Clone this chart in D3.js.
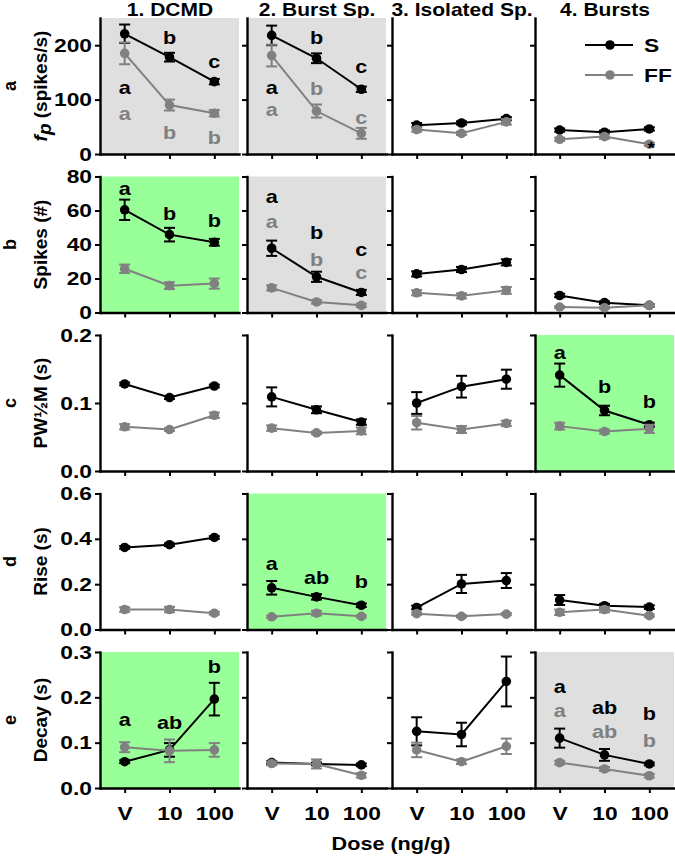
<!DOCTYPE html>
<html><head><meta charset="utf-8">
<script src="https://cdn.jsdelivr.net/npm/d3@7"></script>
<style>
body{margin:0;background:#fff}
text{font-family:"Liberation Sans",Arial,sans-serif;font-weight:bold}
</style>
</head><body>
<svg id="chart" width="675" height="858"></svg>
<script>
// ---------------- DATA ----------------
const doses = ["V", "10", "100"];
const columnTitles = ["1. DCMD", "2. Burst Sp.", "3. Isolated Sp.", "4. Bursts"];
const rowLetters = ["a", "b", "c", "d", "e"];
const rowLabels = ["fp (spikes/s)", "Spikes (#)", "PW½M (s)", "Rise (s)", "Decay (s)"];
const xAxisTitle = "Dose (ng/g)";
const seriesNames = ["S", "FF"];

const yMax = [250, 80, 0.2, 0.6, 0.3];
const yTickValues = [[0, 100, 200], [0, 20, 40, 60, 80], [0, 0.1, 0.2], [0, 0.2, 0.4, 0.6], [0, 0.1, 0.2, 0.3]];
const yTickFormats = ["d", "d", ".1f", ".1f", ".1f"];

// background category per row, per column
const panelShade = [
  ["gray", "gray", "none", "none"],
  ["green", "gray", "none", "none"],
  ["none", "none", "none", "green"],
  ["none", "green", "none", "none"],
  ["green", "none", "none", "gray"]
];

// means and errors: [column][dose]
const fpS      = [[221, 178, 133], [218, 176, 119], [53, 57, 65], [44, 40, 46]];
const fpSErr   = [[17, 8, 5], [18, 9, 5], [4, 3, 3], [3, 3, 3]];
const fpFF     = [[185, 90, 75], [181, 79, 38], [45, 38, 59], [27, 32, 18]];
const fpFFErr  = [[20, 10, 6], [20, 12, 10], [4, 3, 5], [3, 4, 3]];

const spkS     = [[60.4, 45.8, 41.3], [37.8, 21, 11.8], [22.7, 25.3, 29.5], [10, 5.8, 4.2]];
const spkSErr  = [[6, 4, 2], [4.5, 3, 1.5], [1.5, 1.5, 1.8], [1, 0.8, 0.8]];
const spkFF    = [[25.7, 15.8, 17], [14.5, 6.2, 4.2], [11.6, 9.8, 13], [3.2, 2.8, 4.2]];
const spkFFErr = [[2.5, 2, 3], [1.5, 1, 1], [1.5, 1.5, 2], [0.5, 0.5, 0.8]];

const pwS      = [[0.128, 0.108, 0.125], [0.109, 0.090, 0.072], [0.100, 0.124, 0.135], [0.141, 0.089, 0.068]];
const pwSErr   = [[0.002, 0.002, 0.002], [0.014, 0.005, 0.004], [0.016, 0.016, 0.014], [0.017, 0.007, 0.003]];
const pwFF     = [[0.065, 0.061, 0.082], [0.063, 0.056, 0.059], [0.071, 0.061, 0.070], [0.066, 0.058, 0.062]];
const pwFFErr  = [[0.004, 0.002, 0.004], [0.004, 0.002, 0.005], [0.010, 0.005, 0.004], [0.005, 0.003, 0.006]];

const riseS    = [[0.362, 0.374, 0.406], [0.184, 0.144, 0.107], [0.097, 0.201, 0.216], [0.130, 0.105, 0.099]];
const riseSErr = [[0.006, 0.006, 0.006], [0.030, 0.012, 0.008], [0.008, 0.040, 0.033], [0.022, 0.008, 0.008]];
const riseFF   = [[0.088, 0.088, 0.072], [0.056, 0.072, 0.058], [0.070, 0.058, 0.068], [0.076, 0.088, 0.061]];
const riseFFErr= [[0.010, 0.012, 0.006], [0.005, 0.010, 0.005], [0.005, 0.005, 0.005], [0.012, 0.012, 0.005]];

const decS     = [[0.058, 0.084, 0.196], [0.056, 0.053, 0.051], [0.125, 0.118, 0.235], [0.110, 0.073, 0.053]];
const decSErr  = [[0.003, 0.015, 0.036], [0.003, 0.003, 0.003], [0.031, 0.026, 0.055], [0.021, 0.013, 0.003]];
const decFF    = [[0.090, 0.082, 0.084], [0.054, 0.053, 0.028], [0.084, 0.058, 0.092], [0.056, 0.042, 0.027]];
const decFFErr = [[0.011, 0.025, 0.015], [0.004, 0.010, 0.005], [0.016, 0.005, 0.017], [0.004, 0.004, 0.004]];

// significance letters: [column, series(0=S,1=FF), doseIndex, text, level in data units]
const fpLetters = [
  [0, 0, 0, "a", 111], [0, 0, 1, "b", 203], [0, 0, 2, "c", 159],
  [0, 1, 0, "a", 63], [0, 1, 1, "b", 27], [0, 1, 2, "b", 19],
  [1, 0, 0, "a", 111], [1, 0, 1, "b", 203], [1, 0, 2, "c", 148],
  [1, 1, 0, "a", 69], [1, 1, 1, "b", 109], [1, 1, 2, "c", 56]
];
const spkLetters = [
  [0, 0, 0, "a", 69], [0, 0, 1, "b", 54.4], [0, 0, 2, "b", 50.3],
  [1, 0, 0, "a", 64.4], [1, 1, 0, "a", 49.7], [1, 0, 1, "b", 43.2],
  [1, 1, 1, "b", 27.4], [1, 0, 2, "c", 33.2], [1, 1, 2, "c", 19.7]
];
const pwLetters = [[3, 0, 0, "a", 0.165], [3, 0, 1, "b", 0.114], [3, 0, 2, "b", 0.092]];
const riseLetters = [[1, 0, 0, "a", 0.262], [1, 0, 1, "ab", 0.200], [1, 0, 2, "b", 0.182]];
const decLetters = [
  [0, 0, 0, "a", 0.136], [0, 0, 1, "ab", 0.130], [0, 0, 2, "b", 0.253],
  [3, 0, 0, "a", 0.210], [3, 1, 0, "a", 0.156], [3, 0, 1, "ab", 0.164],
  [3, 1, 1, "ab", 0.110], [3, 0, 2, "b", 0.149], [3, 1, 2, "b", 0.090]
];
// asterisk: [row, column, doseIndex]
const starMarks = [[0, 3, 2]];

const rows = [
  {S: fpS, SE: fpSErr, F: fpFF, FE: fpFFErr, L: fpLetters},
  {S: spkS, SE: spkSErr, F: spkFF, FE: spkFFErr, L: spkLetters},
  {S: pwS, SE: pwSErr, F: pwFF, FE: pwFFErr, L: pwLetters},
  {S: riseS, SE: riseSErr, F: riseFF, FE: riseFFErr, L: riseLetters},
  {S: decS, SE: decSErr, F: decFF, FE: decFFErr, L: decLetters}
];

// ---------------- LAYOUT / STYLE ----------------
const colX = [100, 247, 392, 535];
const rowY = [18, 176.5, 335, 493.5, 652];
const PW = 139, PH = 136;
const SX = 1.2; // horizontal widening of the reference lettering
const colors = {S: "#000000", FF: "#808080"};
const shadeColors = {gray: "#dfdfdf", green: "#99ff99"};

const svg = d3.select("#chart");
const x = d3.scalePoint().domain(doses).range([0, PW]).padding(0.55);

function hText(g, px, py, str, size, fill, anchor) {
  return g.append("text")
    .attr("transform", `translate(${px},${py}) scale(${SX},1)`)
    .attr("text-anchor", anchor || "middle")
    .attr("font-size", size)
    .attr("fill", fill || "#000")
    .text(str);
}

// column titles
columnTitles.forEach((t, c) => hText(svg, colX[c] + 70, 16, t, 17.5));

rows.forEach((R, r) => {
  const y = d3.scaleLinear().domain([0, yMax[r]]).range([PH, 0]);

  // row letter + label
  const cy = rowY[r] + PH / 2;
  svg.append("text").attr("transform", `translate(16,${cy}) rotate(-90)`)
    .attr("text-anchor", "middle").attr("font-size", 18).text(rowLetters[r]);
  const lab = svg.append("text").attr("transform", `translate(47,${cy}) rotate(-90)`)
    .attr("text-anchor", "middle").attr("font-size", 19);
  if (r === 0) {
    lab.append("tspan").attr("font-style", "italic").text(rowLabels[0].slice(0, 1));
    lab.append("tspan").attr("font-style", "italic").attr("dy", "0.22em").text(rowLabels[0].slice(1, 2));
    lab.append("tspan").attr("dy", "-0.22em").text(rowLabels[0].slice(2));
  } else {
    lab.text(rowLabels[r]);
  }

  for (let c = 0; c < 4; c++) {
    const g = svg.append("g").attr("transform", `translate(${colX[c]},${rowY[r]})`);
    const shade = panelShade[r][c];
    if (shade !== "none") {
      g.append("rect").attr("x", 0).attr("y", 0).attr("width", PW).attr("height", PH)
        .attr("fill", shadeColors[shade]);
    }

    // axes
    const ya = d3.axisLeft(y).tickValues(yTickValues[r]).tickSize(5).tickSizeOuter(0)
      .tickFormat(c === 0 ? d3.format(yTickFormats[r]) : () => "");
    const yg = g.append("g").call(ya);
    const xa = d3.axisBottom(x).tickSize(5).tickSizeOuter(0)
      .tickFormat(r === 4 ? (d => d) : () => "");
    const xg = g.append("g").attr("transform", `translate(0,${PH})`).call(xa);
    [yg, xg].forEach(a => {
      a.select(".domain").attr("stroke-width", 2.4).attr("stroke-linecap", "square");
      a.selectAll(".tick line").attr("stroke-width", 2);
      a.selectAll("text").attr("font-size", 19).attr("fill", "#000")
        .attr("font-family", "'Liberation Sans',Arial,sans-serif").attr("font-weight", "bold");
    });
    yg.selectAll("text").attr("x", -8 / SX).attr("transform", `scale(${SX},1)`);
    xg.selectAll("text").attr("y", 32).attr("dy", 0).attr("transform", `scale(${SX},1)`);

    // series: S first, FF on top
    [["S", R.S[c], R.SE[c]], ["FF", R.F[c], R.FE[c]]].forEach(([name, vals, errs]) => {
      const pts = doses.map((d, i) => ({d, v: vals[i], e: errs[i]}));
      const col = colors[name];
      g.append("path").datum(pts)
        .attr("d", d3.line().x(p => x(p.d)).y(p => y(p.v)))
        .attr("fill", "none").attr("stroke", col).attr("stroke-width", 2);
      const eb = g.append("g").attr("stroke", col).attr("stroke-width", 2);
      pts.forEach(p => {
        const x0 = x(p.d), y1 = y(p.v + p.e), y2 = y(p.v - p.e);
        eb.append("line").attr("x1", x0).attr("x2", x0).attr("y1", y1).attr("y2", y2);
        eb.append("line").attr("x1", x0 - 5.5).attr("x2", x0 + 5.5).attr("y1", y1).attr("y2", y1);
        eb.append("line").attr("x1", x0 - 5.5).attr("x2", x0 + 5.5).attr("y1", y2).attr("y2", y2);
      });
      g.selectAll(null).data(pts).enter().append("circle")
        .attr("cx", p => x(p.d)).attr("cy", p => y(p.v)).attr("r", 4.8).attr("fill", col);
    });

    // letters
    R.L.filter(l => l[0] === c).forEach(([cc, s, di, t, lv]) => {
      hText(g, x(doses[di]), y(lv), t, 18, s === 0 ? colors.S : colors.FF);
    });
    // stars
    starMarks.filter(m => m[0] === r && m[1] === c).forEach(([rr, cc, di]) => {
      const p = R.F[c][di];
      hText(g, x(doses[di]) + 2, y(p) + 10, "*", 16, "#000");
    });

    // legend
    if (r === 0 && c === 3) {
      seriesNames.forEach((n, i) => {
        const ly = 27 + i * 30;
        g.append("line").attr("x1", 50).attr("x2", 98).attr("y1", ly).attr("y2", ly)
          .attr("stroke", colors[n]).attr("stroke-width", 2);
        g.append("circle").attr("cx", 75).attr("cy", ly).attr("r", 4.8).attr("fill", colors[n]);
        hText(g, 109, ly + 7, n, 19, "#000", "start");
      });
    }
  }
});

// x axis title
hText(svg, 391, 850, xAxisTitle, 18);
</script>
</body></html>
